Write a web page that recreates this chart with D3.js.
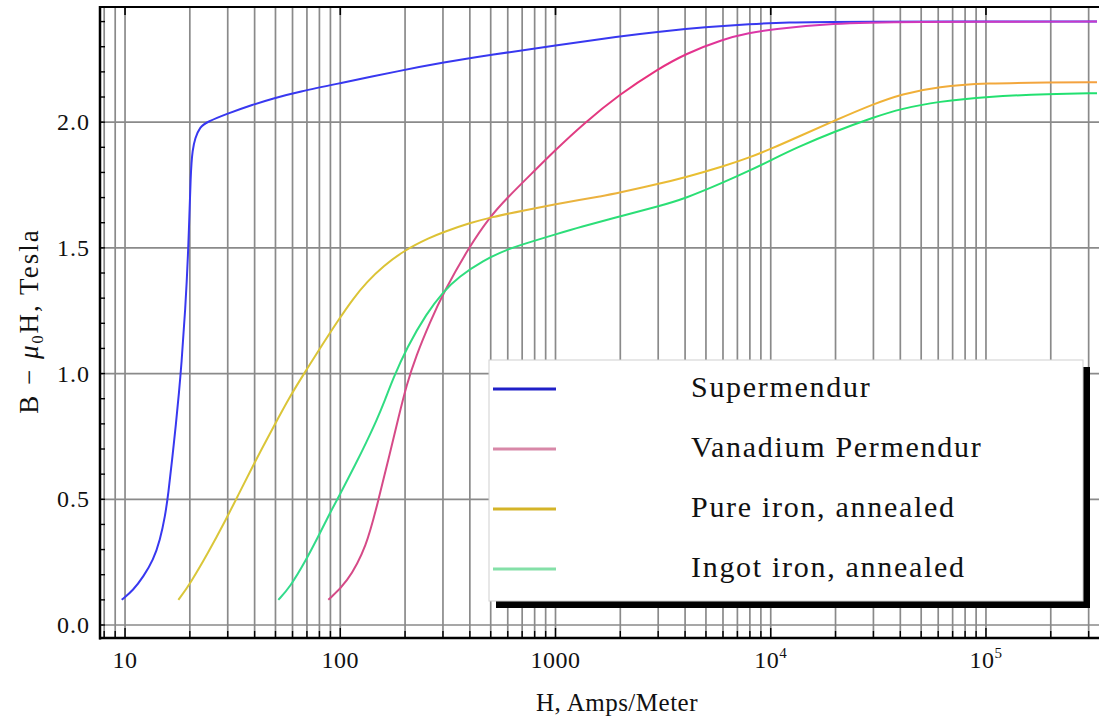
<!DOCTYPE html>
<html>
<head>
<meta charset="utf-8">
<script src="https://cdn.jsdelivr.net/npm/d3@7"></script>
<style>
  html, body { margin: 0; padding: 0; background: #fff; }
  svg { display: block; }
  text { font-family: "Liberation Serif", "Times New Roman", serif; fill: #111; }
</style>
</head>
<body>
<svg id="chart" width="1099" height="719"></svg>
<script>
// Magnetization curves: H (A/m) and B − μ0H (T) for four soft magnetic materials
const seriesNames = ["Supermendur", "Vanadium Permendur", "Pure iron, annealed", "Ingot iron, annealed"];

const supermendurH = [9.65, 10.93, 12.16, 13.54, 14.54, 15.34, 15.9, 16.54, 17.26, 17.82, 18.26, 19.06, 19.72, 20.19, 20.59, 21.14, 22.31, 23.97, 29.69, 39.4, 48.9, 65, 100, 190, 300, 500, 1000, 2000, 3000, 5000, 8000, 12000, 20000, 328000];
const supermendurB = [0.10, 0.139, 0.192, 0.259, 0.338, 0.431, 0.524, 0.656, 0.803, 0.927, 1.030, 1.253, 1.504, 1.810, 1.889, 1.936, 1.982, 2.0, 2.033, 2.07, 2.095, 2.122, 2.155, 2.205, 2.237, 2.268, 2.305, 2.342, 2.36, 2.378, 2.39, 2.397, 2.40, 2.40];

const permendurH = [88.0, 107.2, 132.7, 150.2, 170.3, 186.1, 203.5, 224.9, 261.2, 301.1, 397.7, 496.3, 593.3, 788.6, 987.2, 1346, 1993, 3003, 3997, 6020, 8010, 9920, 19460, 39870, 328000];
const permendurB = [0.10, 0.166, 0.311, 0.497, 0.684, 0.823, 0.957, 1.070, 1.205, 1.321, 1.505, 1.624, 1.697, 1.802, 1.885, 1.993, 2.112, 2.212, 2.271, 2.331, 2.355, 2.369, 2.393, 2.399, 2.40];

const pureIronH = [17.69, 19.89, 24.3, 29.69, 33.03, 39.74, 49.22, 58.88, 68.6, 79.07, 99.0, 115, 132.7, 158.5, 200, 261.2, 301.1, 400.6, 496.3, 734.9, 994.7, 1300, 1610, 1993, 3003, 3997, 6020, 8010, 10100, 13200, 19890, 29960, 40600, 60030, 100800, 198300, 328000];
const pureIronB = [0.10, 0.159, 0.286, 0.426, 0.505, 0.642, 0.792, 0.915, 1.006, 1.090, 1.219, 1.299, 1.364, 1.428, 1.492, 1.541, 1.563, 1.599, 1.621, 1.651, 1.673, 1.691, 1.704, 1.720, 1.754, 1.780, 1.824, 1.860, 1.895, 1.939, 2.007, 2.072, 2.112, 2.142, 2.155, 2.158, 2.159];

const ingotIronH = [51.54, 58.44, 68.6, 79.07, 89.6, 97.9, 119.2, 131.7, 147.7, 161.4, 175.8, 203.5, 252.1, 301.1, 353.6, 461.9, 593.3, 788.6, 994.7, 1300, 1993, 3003, 3997, 6020, 8010, 10100, 13200, 19890, 29960, 40600, 60030, 100800, 198300, 328000];
const ingotIronB = [0.10, 0.151, 0.251, 0.352, 0.446, 0.507, 0.648, 0.724, 0.815, 0.895, 0.979, 1.102, 1.240, 1.326, 1.384, 1.450, 1.494, 1.527, 1.553, 1.583, 1.625, 1.665, 1.696, 1.760, 1.808, 1.850, 1.899, 1.963, 2.019, 2.054, 2.082, 2.102, 2.112, 2.115];

const xMajorTicks = [10, 100, 1000, 1e4, 1e5];
const xTickLabels = [["10", ""], ["100", ""], ["1000", ""], ["10", "4"], ["10", "5"]];
const yMajorTicks = [0, 0.5, 1.0, 1.5, 2.0];
const yTickLabels = ["0.0", "0.5", "1.0", "1.5", "2.0"];

const svg = d3.select("#chart");
const W = 1099, H = 719;
const plot = { left: 100, right: 1097, top: 7, bottom: 638 };

const x = d3.scaleLog().domain([7.65, 328000]).range([plot.left, plot.right]);
const y = d3.scaleLinear().domain([-0.0517, 2.458]).range([plot.bottom, plot.top]);

// minor log positions 1..9 × 10^k inside the domain
const xMinor = [];
for (let p = 0; p <= 5; p++) {
  for (let k = 1; k <= 9; k++) {
    const v = k * Math.pow(10, p);
    if (v >= x.domain()[0] && v <= x.domain()[1]) xMinor.push(v);
  }
}
const yMinor = d3.range(0, 2.45, 0.1);

const grid = svg.append("g").attr("class", "grid");
grid.selectAll("line.v").data(xMinor).join("line")
  .attr("x1", d => x(d)).attr("x2", d => x(d))
  .attr("y1", plot.top).attr("y2", plot.bottom)
  .attr("stroke", "#8a8a8a").attr("stroke-width", 1.7);
grid.selectAll("line.h").data(yMajorTicks).join("line")
  .attr("x1", plot.left).attr("x2", W)
  .attr("y1", d => y(d)).attr("y2", d => y(d))
  .attr("stroke", "#8a8a8a").attr("stroke-width", 1.7);

// gradients for the colour-shifting curves
const defs = svg.append("defs");
function gradient(id, stops) {
  const g = defs.append("linearGradient").attr("id", id)
    .attr("gradientUnits", "userSpaceOnUse")
    .attr("x1", plot.left).attr("x2", plot.right).attr("y1", 0).attr("y2", 0);
  stops.forEach(([o, c]) => g.append("stop").attr("offset", o).attr("stop-color", c));
}
gradient("gPink", [[0, "#d04a86"], [0.4, "#d84a88"], [0.55, "#e8307c"], [0.68, "#d838b0"], [1, "#c838c8"]]);
gradient("gYellow", [[0, "#d8c83c"], [0.35, "#dcc234"], [0.5, "#ecb040"], [0.6, "#e8c030"], [0.8, "#f0b038"], [1, "#f4a040"]]);
gradient("gGreen", [[0, "#38d8a0"], [0.3, "#30dc80"], [0.7, "#28e070"], [1, "#20e070"]]);

// B-spline through the sampled points keeps the curves smooth
const line = d3.line().x(d => x(d[0])).y(d => y(d[1])).curve(d3.curveBasis);
const series = [
  { h: supermendurH, b: supermendurB, color: "#3838f0" },
  { h: permendurH, b: permendurB, color: "url(#gPink)" },
  { h: pureIronH, b: pureIronB, color: "url(#gYellow)" },
  { h: ingotIronH, b: ingotIronB, color: "url(#gGreen)" }
];
const curves = svg.append("g").attr("class", "curves");
series.forEach(s => {
  curves.append("path")
    .datum(s.h.map((v, i) => [v, s.b[i]]))
    .attr("d", line)
    .attr("fill", "none")
    .attr("stroke", s.color)
    .attr("stroke-width", 2);
});

// frame
const frame = svg.append("g").attr("class", "frame");
frame.append("line").attr("x1", plot.left).attr("x2", plot.left).attr("y1", plot.top - 1).attr("y2", plot.bottom + 1.5)
  .attr("stroke", "#000").attr("stroke-width", 2.5);
frame.append("line").attr("x1", plot.left - 1).attr("x2", W).attr("y1", plot.bottom).attr("y2", plot.bottom)
  .attr("stroke", "#000").attr("stroke-width", 2.5);
frame.append("line").attr("x1", plot.left - 1).attr("x2", W).attr("y1", plot.top).attr("y2", plot.top)
  .attr("stroke", "#000").attr("stroke-width", 2.2);

// ticks
frame.selectAll("line.xt").data(xMinor).join("line")
  .attr("x1", d => x(d)).attr("x2", d => x(d))
  .attr("y1", plot.bottom).attr("y2", d => plot.bottom - (xMajorTicks.includes(d) ? 10 : 7))
  .attr("stroke", "#000").attr("stroke-width", 1.4);
frame.selectAll("line.xtt").data(xMajorTicks).join("line")
  .attr("x1", d => x(d)).attr("x2", d => x(d))
  .attr("y1", plot.top).attr("y2", plot.top + 8)
  .attr("stroke", "#000").attr("stroke-width", 1.6);
frame.selectAll("line.yt").data(yMinor).join("line")
  .attr("x1", plot.left).attr("x2", plot.left + 5)
  .attr("y1", d => y(d)).attr("y2", d => y(d))
  .attr("stroke", "#000").attr("stroke-width", 1.4);

// tick labels
const yl = svg.append("g").attr("font-size", 24).attr("letter-spacing", 1);
yl.selectAll("text").data(yMajorTicks).join("text")
  .attr("x", 90).attr("y", d => y(d) + 8)
  .attr("text-anchor", "end")
  .text((d, i) => yTickLabels[i]);

const xl = svg.append("g").attr("font-size", 24).attr("letter-spacing", 0.5);
xl.selectAll("text").data(xMajorTicks).join("text")
  .attr("x", d => x(d)).attr("y", 668)
  .attr("text-anchor", "middle")
  .each(function (d, i) {
    const t = d3.select(this);
    t.append("tspan").text(xTickLabels[i][0]);
    if (xTickLabels[i][1]) t.append("tspan").attr("font-size", 15).attr("dy", -10).text(xTickLabels[i][1]);
  });

// axis titles
svg.append("text").attr("x", 617).attr("y", 711).attr("text-anchor", "middle")
  .attr("font-size", 25).attr("letter-spacing", 0.5).text("H, Amps/Meter");
const yt = svg.append("text").attr("transform", "translate(38,321) rotate(-90)")
  .attr("text-anchor", "middle").attr("font-size", 27).attr("letter-spacing", 2);
yt.append("tspan").text("B \u2212 ");
yt.append("tspan").attr("font-style", "italic").text("\u03BC");
yt.append("tspan").attr("font-size", 16).attr("dy", 5).text("0");
yt.append("tspan").attr("dy", -5).text("H, Tesla");

// legend
const lg = svg.append("g").attr("class", "legend");
const box = { x: 489, y: 360, w: 594, h: 241, off: 7 };
lg.append("rect").attr("x", box.x + box.off).attr("y", box.y + box.off)
  .attr("width", box.w).attr("height", box.h).attr("fill", "#000");
lg.append("rect").attr("x", box.x).attr("y", box.y)
  .attr("width", box.w).attr("height", box.h).attr("fill", "#fff")
  .attr("stroke", "#cfcfcf").attr("stroke-width", 1);
const legendColors = ["#2020c8", "#d888a8", "#d4b428", "#84e0a8"];
const legendY = d3.scaleLinear().domain([0, 3]).range([389, 569]);
seriesNames.forEach((name, i) => {
  lg.append("line").attr("x1", 493).attr("x2", 556)
    .attr("y1", legendY(i)).attr("y2", legendY(i))
    .attr("stroke", legendColors[i]).attr("stroke-width", 3);
  lg.append("text").attr("x", 691).attr("y", legendY(i) + 8)
    .attr("font-size", 30).attr("letter-spacing", 1.7).text(name);
});
</script>
</body>
</html>
